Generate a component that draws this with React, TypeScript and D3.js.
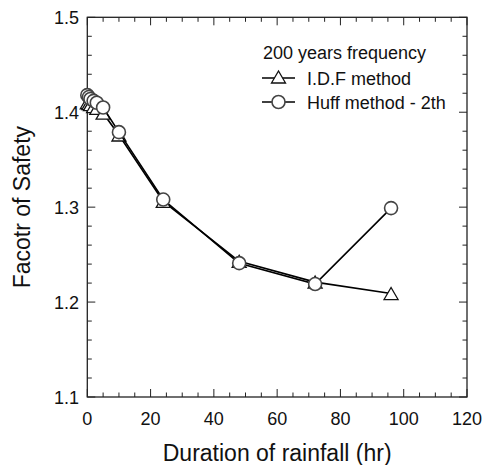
import React from "react";
import * as d3 from "d3";

const durationsIDF = [0, 0.5, 1, 2, 3, 5, 10, 24, 48, 72, 96];
const fsIDF = [1.41, 1.409, 1.408, 1.406, 1.404, 1.399, 1.376, 1.306, 1.243, 1.221, 1.209];
const durationsHuff = [0, 0.5, 1, 2, 3, 5, 10, 24, 48, 72, 96];
const fsHuff = [1.418, 1.416, 1.414, 1.412, 1.41, 1.405, 1.379, 1.308, 1.241, 1.219, 1.299];
const xTicks = [0, 20, 40, 60, 80, 100, 120];
const yTicks = [1.1, 1.2, 1.3, 1.4, 1.5];
const legendTitle = "200 years frequency";
const seriesNames = ["I.D.F method", "Huff method - 2th"];

const W = 485, H = 465;
const L = 87.3, R = 467, T = 17.3, B = 397;
const FONT = "'Liberation Sans', Arial, sans-serif";

export default function App() {
  const x = d3.scaleLinear().domain([0, 120]).range([L, R]);
  const y = d3.scaleLinear().domain([1.1, 1.5]).range([B, T]);
  const xMinor = d3.range(0, 120.001, 5);
  const yMinor = d3.range(1.1, 1.5001, 0.02);
  const isMajorX = (v: number) => Math.abs(v / 20 - Math.round(v / 20)) < 1e-6;
  const isMajorY = (v: number) => Math.abs(v * 10 - Math.round(v * 10)) < 1e-6;

  const line = d3.line<[number, number]>().x(d => x(d[0])).y(d => y(d[1]));
  const idfPts = durationsIDF.map((d, i) => [d, fsIDF[i]] as [number, number]);
  const huffPts = durationsHuff.map((d, i) => [d, fsHuff[i]] as [number, number]);

  const tri = (cx: number, cy: number) => {
    const w = 14, h = 12;
    return `M${cx - w / 2},${cy + h / 2}L${cx + w / 2},${cy + h / 2}L${cx},${cy - h / 2}Z`;
  };

  const legendRows = [78, 102];

  return (
    <svg width={W} height={H} style={{ position: "absolute", left: 0, top: 0, background: "#fff" }} fontFamily={FONT}>
      {/* ticks */}
      {xMinor.map((v, i) => {
        const len = isMajorX(v) ? 8 : 4.5;
        return (
          <g key={"xt" + i} stroke="#222" strokeWidth={1}>
            <line x1={x(v)} x2={x(v)} y1={B} y2={B - len} />
            <line x1={x(v)} x2={x(v)} y1={T} y2={T + len} />
          </g>
        );
      })}
      {yMinor.map((v, i) => {
        const len = isMajorY(v) ? 8 : 4.5;
        return (
          <g key={"yt" + i} stroke="#222" strokeWidth={1}>
            <line x1={L} x2={L + len} y1={y(v)} y2={y(v)} />
            <line x1={R} x2={R - len} y1={y(v)} y2={y(v)} />
          </g>
        );
      })}
      <rect x={L} y={T} width={R - L} height={B - T} fill="none" stroke="#222" strokeWidth={1.3} />

      {/* tick labels */}
      {xTicks.map(v => (
        <text key={"xl" + v} x={x(v)} y={425} fontSize={18} textAnchor="middle" fill="#111">{v}</text>
      ))}
      {yTicks.map(v => (
        <text key={"yl" + v} x={79} y={y(v) + 6.5} fontSize={18} textAnchor="end" fill="#111">{v.toFixed(1)}</text>
      ))}

      {/* axis titles */}
      <text x={(L + R) / 2} y={461} fontSize={23} textAnchor="middle" fill="#111">Duration of rainfall (hr)</text>
      <text transform={`translate(30,${(T + B) / 2}) rotate(-90)`} fontSize={23} textAnchor="middle" fill="#111">Facotr of Safety</text>

      {/* series */}
      <path d={line(idfPts) || ""} fill="none" stroke="#000" strokeWidth={1.6} />
      {idfPts.map((p, i) => (
        <path key={"ti" + i} d={tri(x(p[0]), y(p[1]))} fill="#fff" stroke="#111" strokeWidth={1.3} />
      ))}
      <path d={line(huffPts) || ""} fill="none" stroke="#000" strokeWidth={1.6} />
      {huffPts.map((p, i) => (
        <circle key={"ci" + i} cx={x(p[0])} cy={y(p[1])} r={6.5} fill="#fff" stroke="#444" strokeWidth={1.6} />
      ))}

      {/* legend */}
      <text x={263} y={59} fontSize={18} fill="#111">{legendTitle}</text>
      {legendRows.map((ry, i) => (
        <g key={"lg" + i}>
          <line x1={262} x2={295} y1={ry} y2={ry} stroke="#000" strokeWidth={1.5} />
          {i === 0 ? (
            <path d={tri(278.5, ry - 1)} fill="#fff" stroke="#111" strokeWidth={1.3} />
          ) : (
            <circle cx={278.5} cy={ry} r={6.5} fill="#fff" stroke="#444" strokeWidth={1.6} />
          )}
          <text x={307} y={ry + 6.5} fontSize={18} fill="#111">{seriesNames[i]}</text>
        </g>
      ))}
    </svg>
  );
}
